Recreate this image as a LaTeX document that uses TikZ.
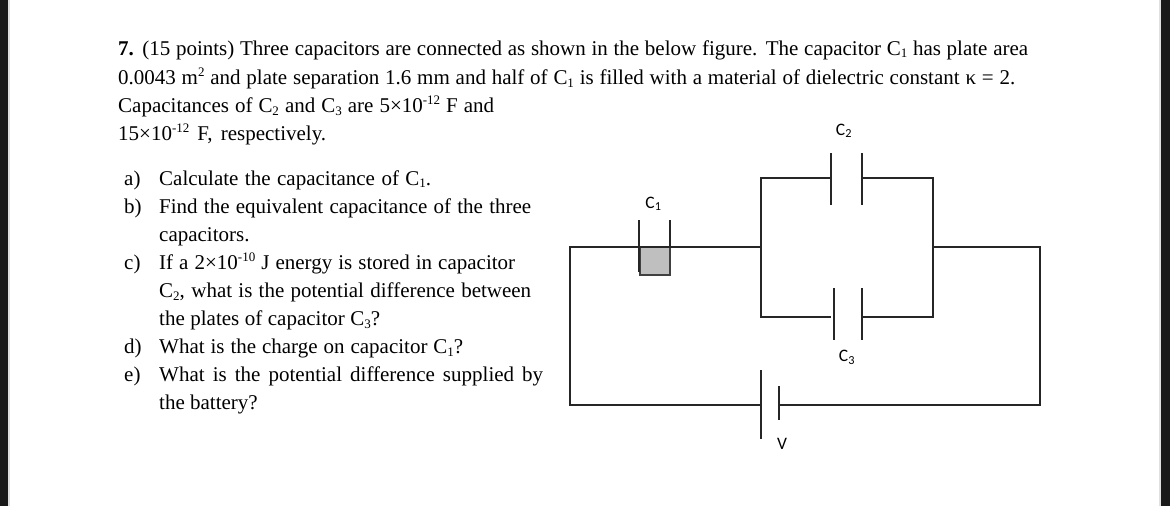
\documentclass[tikz,border=0pt]{standalone}
\usepackage{fontspec}
\setmainfont{Liberation Serif}
\newfontfamily\labelfont{Carlito}
\tikzset{
  wire/.style={line width=1.5pt, black!85},
  txt/.style={anchor=base west, inner sep=0pt, font=\fontsize{21}{28}\selectfont},
  lbl/.style={inner sep=0pt, font=\labelfont\fontsize{17.5}{20}\selectfont},
}
\newcommand{\sbs}[1]{\raisebox{-2.5pt}{\fontsize{13}{13}\selectfont #1}}
\newcommand{\sps}[1]{\raisebox{8pt}{\fontsize{13}{13}\selectfont #1}}
\newcommand{\fitline}[2]{\makebox[#1pt][s]{#2}}
\begin{document}
\begin{tikzpicture}[x=1pt, y=-1pt]
        \useasboundingbox (0,0) rectangle (1170,506);
        % side bars
        \fill[black!90] (0,0) rectangle (8,506);
        \fill[black!12] (8,0) rectangle (10,506);
        \fill[black!90] (1161,0) rectangle (1170,506);
        \fill[black!12] (1159,0) rectangle (1161,506);
        % question
        \node[txt] (line1) at (118,55) {\fitline{910}{\textbf{7.} (15 points) Three capacitors are connected as shown in the below figure. The capacitor C\sbs{1} has plate area}};
        \node[txt] (line2) at (118,84.5) {\fitline{897}{0.0043 m\sps{2} and plate separation 1.6 mm and half of C\sbs{1} is filled with a material of dielectric constant κ = 2.}};
        \node[txt] (line3) at (118,112.5) {\fitline{376}{Capacitances of C\sbs{2} and C\sbs{3} are 5×10\sps{-12} F and}};
        \node[txt] (line4) at (118,140.5) {\fitline{208}{15×10\sps{-12} F, respectively.}};
        % parts
        \node[txt] (a) at (124,185) {a)};
        \node[txt] (a1) at (159,185) {\fitline{272}{Calculate the capacitance of C\sbs{1}.}};
        \node[txt] (b) at (124,213) {b)};
        \node[txt] (b1) at (159,213) {\fitline{372}{Find the equivalent capacitance of the three}};
        \node[txt] (b2) at (159,241) {capacitors.};
        \node[txt] (c) at (124,269) {c)};
        \node[txt] (c1) at (159,269) {\fitline{356}{If a 2×10\sps{-10} J energy is stored in capacitor}};
        \node[txt] (c2) at (159,297.5) {\fitline{372}{C\sbs{2}, what is the potential difference between}};
        \node[txt] (c3) at (159,325.5) {\fitline{221}{the plates of capacitor C\sbs{3}?}};
        \node[txt] (d) at (124,353.5) {d)};
        \node[txt] (d1) at (159,353.5) {\fitline{304}{What is the charge on capacitor C\sbs{1}?}};
        \node[txt] (e) at (124,381.5) {e)};
        \node[txt] (e1) at (159,381.5) {\fitline{384}{What is the potential difference supplied by}};
        \node[txt] (e2) at (159,409.5) {the battery?};
        % circuit corners
        \coordinate (tl) at (570,247);
        \coordinate (bl) at (570,405);
        \coordinate (tr) at (1040,247);
        \coordinate (br) at (1040,405);
        \coordinate (jl) at (761,247);
        \coordinate (jr) at (933,247);
        \coordinate (jlt) at (761,178);
        \coordinate (jrt) at (933,178);
        \coordinate (jlb) at (761,317);
        \coordinate (jrb) at (933,317);
        % C1
        \coordinate (c1l) at (639,247);
        \coordinate (c1r) at (670,247);
        \fill[black!25] (640,247) rectangle (670,275);
        \draw[line width=1.5pt, black!75] (640,272) -- (640,275) -- (670,275) -- (670,247);
        \draw[line width=1.5pt, black!75] (640,272) -- (640,247);
        \draw[line width=2.2pt, black!85] (c1l) -- (c1r);
        \draw[wire] (639,220) -- (639,272);
        \draw[wire] (670,220) -- (670,247);
        % C2
        \coordinate (c2l) at (831,178);
        \coordinate (c2r) at (862,178);
        \draw[wire] (831,153) -- (831,205);
        \draw[wire] (862,153) -- (862,205);
        % C3
        \coordinate (c3l) at (831,317);
        \coordinate (c3r) at (863,317);
        \draw[wire] (834,288) -- (834,340);
        \draw[wire] (862,288) -- (862,340);
        % battery
        \coordinate (vl) at (761,405);
        \coordinate (vr) at (779,405);
        \draw[wire] (761,370) -- (761,439);
        \draw[wire] (779,386) -- (779,420);
        % wires
        \draw[wire] (c1l) -- (tl) -- (bl) -- (vl);
        \draw[wire] (vr) -- (br) -- (tr) -- (jr);
        \draw[wire] (c1r) -- (jl);
        \draw[wire] (c2l) -- (jlt) -- (jlb) -- (c3l);
        \draw[wire] (c2r) -- (jrt) -- (jrb) -- (c3r);
        % labels
        \node[lbl] (labC1) at (653.5,204) {C\textsubscript{1}};
        \node[lbl] (labC2) at (844,131) {C\textsubscript{2}};
        \node[lbl] (labC3) at (847,357.5) {C\textsubscript{3}};
        \node[lbl] (labV) at (782,444) {V};
      \end{tikzpicture}
\end{document}
